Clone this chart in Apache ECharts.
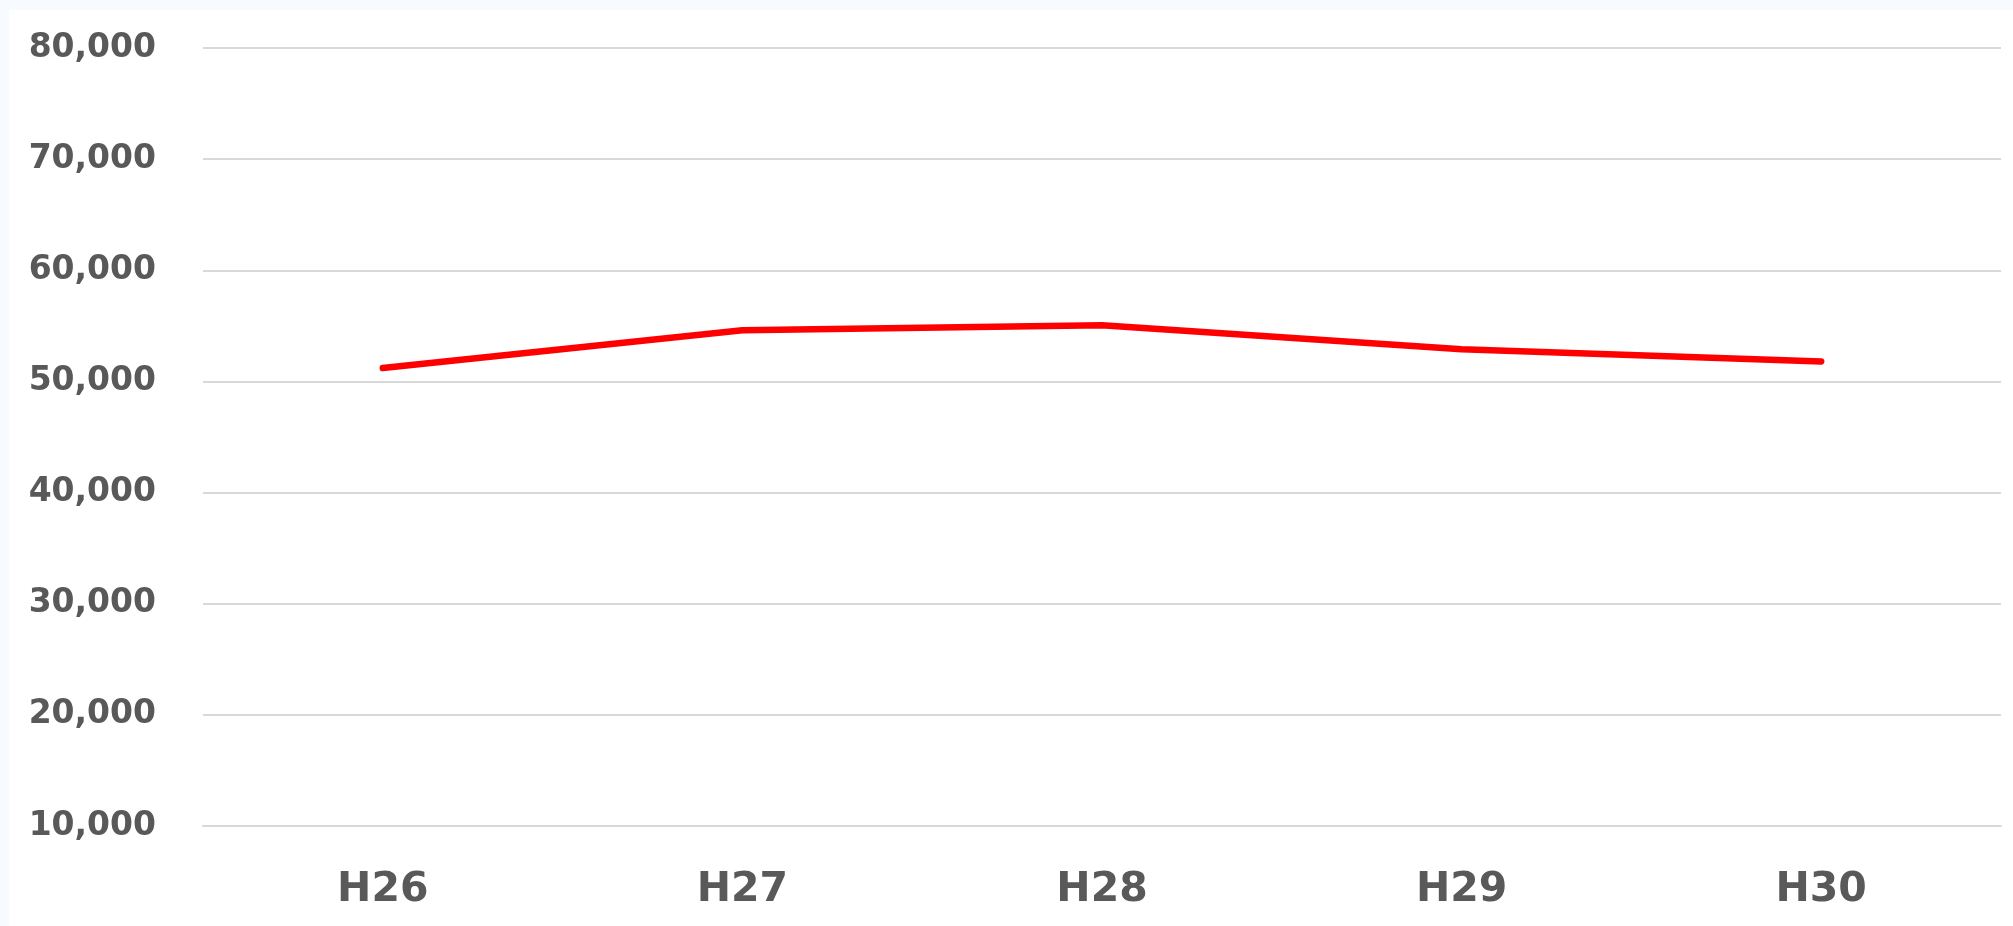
<!DOCTYPE html>
<html>
<head>
<meta charset="utf-8">
<script src="https://cdn.jsdelivr.net/npm/echarts@6/dist/echarts.min.js"></script>
<style>
html, body { margin: 0; padding: 0; width: 2013px; height: 926px; background: #f7fafe; overflow: hidden; }
#chart { position: absolute; left: 9px; top: 10px; width: 2004px; height: 916px; background: #ffffff; }
</style>
</head>
<body>
<div id="chart"></div>
<script>
const categories = ['H26', 'H27', 'H28', 'H29', 'H30'];
const values = [51200, 54600, 55050, 52900, 51800];
const yMin = 10000, yMax = 80000, yStep = 10000;

const chart = echarts.init(document.getElementById('chart'), null, { renderer: 'canvas' });
chart.setOption({
  animation: false,
  backgroundColor: '#ffffff',
  grid: { left: 194, right: 12, top: 38, bottom: 100 },
  xAxis: {
    type: 'category',
    data: categories,
    boundaryGap: true,
    axisLine: { show: true, lineStyle: { color: '#d9d9d9', width: 2 } },
    axisTick: { show: false },
    axisLabel: { color: '#595959', fontFamily: 'DejaVu Sans', fontWeight: 'bold', fontSize: 41, margin: 44 }
  },
  yAxis: {
    type: 'value',
    min: yMin, max: yMax, interval: yStep,
    axisLine: { show: false },
    axisTick: { show: false },
    splitLine: { lineStyle: { color: '#d9d9d9', width: 2 } },
    axisLabel: {
      color: '#595959', fontFamily: 'DejaVu Sans', fontWeight: 'bold', fontSize: 33, margin: 47,
      formatter: v => v.toLocaleString('en-US')
    }
  },
  series: [{
    type: 'line',
    data: values,
    symbol: 'none',
    smooth: false,
    lineStyle: { color: '#ff0000', width: 6.5, cap: 'round', join: 'round' }
  }]
});
</script>
</body>
</html>
